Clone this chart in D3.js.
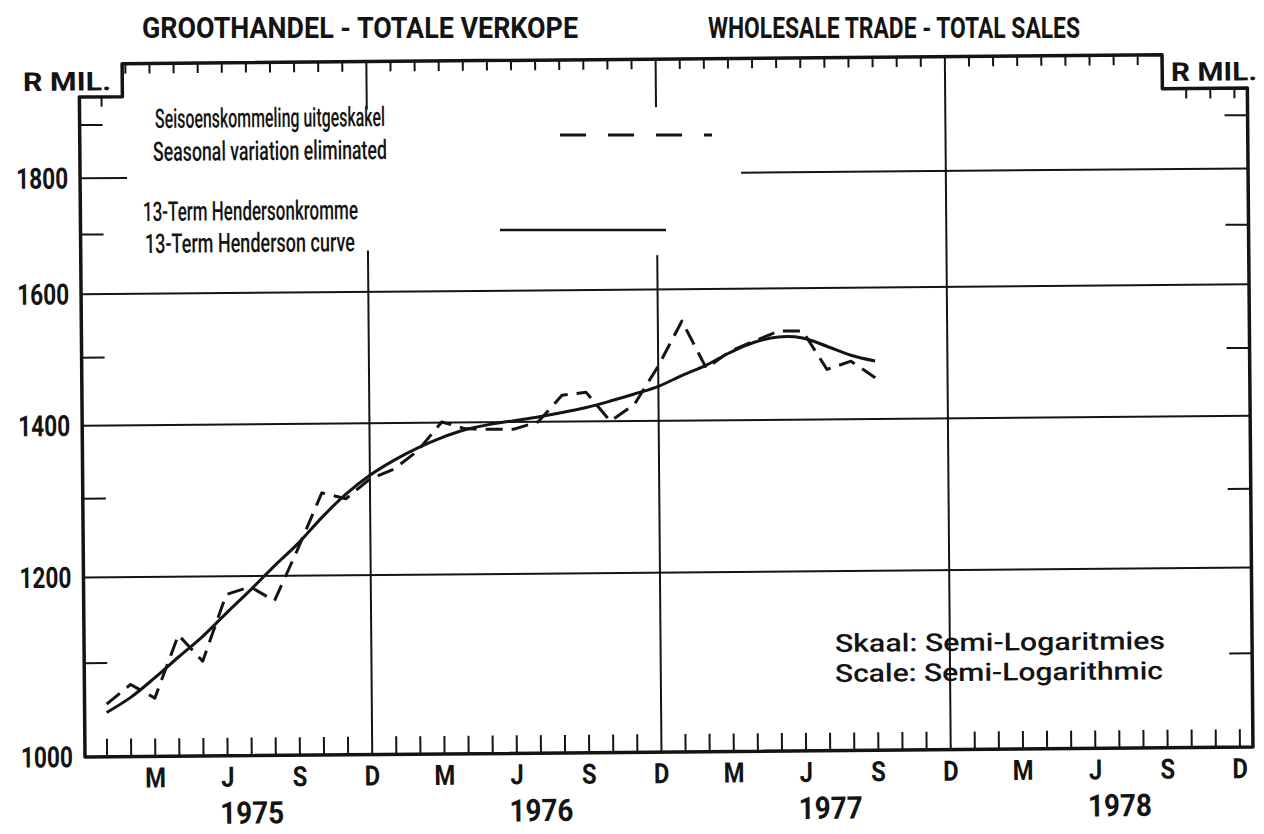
<!DOCTYPE html>
<html><head><meta charset="utf-8">
<script src="https://cdn.jsdelivr.net/npm/d3@7"></script>
<style>html,body{margin:0;padding:0;background:#fff;}svg{display:block;}</style>
</head><body>
<svg id="chart" width="1264" height="834"></svg>
<script>
// ---------- data ----------
const months = ["Jan 1975","Feb 1975","Mar 1975","Apr 1975","May 1975","Jun 1975","Jul 1975","Aug 1975","Sep 1975","Oct 1975","Nov 1975","Dec 1975",
  "Jan 1976","Feb 1976","Mar 1976","Apr 1976","May 1976","Jun 1976","Jul 1976","Aug 1976","Sep 1976","Oct 1976","Nov 1976","Dec 1976",
  "Jan 1977","Feb 1977","Mar 1977","Apr 1977","May 1977","Jun 1977","Jul 1977","Aug 1977","Sep 1977"];
const seasonallyAdjusted = [1055,1076,1061,1131,1101,1178,1187,1170,1234,1305,1297,1323,
  1336,1361,1401,1391,1390,1390,1400,1438,1442,1400,1424,1480,
  1549,1476,1502,1517,1532,1532,1473,1485,1460];
const hendersonCurve = [1046,1062,1083,1106,1129,1156,1183,1212,1240,1273,1303,1328,
  1348,1365,1379,1390,1397,1402,1407,1413,1420,1429,1439,1450,
  1466,1481,1500,1515,1523,1521,1508,1494,1485];
const quarterLabels = ["M","J","S","D","M","J","S","D","M","J","S","D","M","J","S","D"];
const yearLabels = ["1975","1976","1977","1978"];
const majorYTicks = [1000,1200,1400,1600,1800];
const minorYTicks = [1100,1300,1500,1700,1900];
const titleLeft = "GROOTHANDEL - TOTALE VERKOPE";
const titleRight = "WHOLESALE TRADE - TOTAL SALES";
const unitLabel = "R MIL.";
const legendDashed = ["Seisoenskommeling uitgeskakel","Seasonal variation eliminated"];
const legendSolid = ["13-Term Hendersonkromme","13-Term Henderson curve"];
const scaleNote = ["Skaal: Semi-Logaritmies","Scale: Semi-Logarithmic"];

// ---------- layout ----------
const INK = "#141414";
const FONT = "Roboto, 'DejaVu Sans', sans-serif";
const svg = d3.select("#chart");
svg.append("rect").attr("width",1264).attr("height",834).attr("fill","#fff");

// month index: 0 = Dec 1974 ... 48 = Dec 1978
const x = d3.scaleLinear().domain([0,48]).range([83,1240]);
const y = d3.scaleLog().domain([1000,1900]).range([757, 757 - 2267*Math.log10(1.9)]);

const pivotX = 85, pivotY = 757, tilt = 0.0085;       // the scan is slightly rotated
const F = (X,Y) => [X + (pivotY - Y)*tilt, Y + (X - pivotX)*tilt]; // page -> chart frame

function label(sel, txt, X, Y, size, weight, width, anchor){
  const t = sel.append("text").attr("x",X).attr("y",Y).attr("fill",INK)
    .attr("font-family",FONT).attr("font-size",size).attr("font-weight",weight)
    .attr("text-anchor",anchor||"start").text(txt);
  if (width) t.attr("textLength",width).attr("lengthAdjust","spacingAndGlyphs");
  return t;
}
label(svg, titleLeft, 142, 38, 30, 700, 436);
label(svg, titleRight, 708, 38, 30, 700, 372);

const g = svg.append("g").attr("transform",`rotate(${-tilt*180/Math.PI} ${pivotX} ${pivotY})`);

const fL = 85, fR = 1253, fB = y(1000), fT = 64, stepY = 97, stepL = 128, stepR = 1168;

[1200,1400,1600].forEach(v => g.append("line").attr("x1",fL).attr("x2",fR)
  .attr("y1",y(v)).attr("y2",y(v)).attr("stroke",INK).attr("stroke-width",2));
g.append("line").attr("x1",746).attr("x2",fR).attr("y1",y(1800)).attr("y2",y(1800))
  .attr("stroke",INK).attr("stroke-width",2);
g.append("line").attr("x1",fL).attr("x2",fL+47).attr("y1",y(1800)).attr("y2",y(1800))
  .attr("stroke",INK).attr("stroke-width",2);
minorYTicks.forEach(v => {
  g.append("line").attr("x1",fL).attr("x2",fL+23).attr("y1",y(v)).attr("y2",y(v))
    .attr("stroke",INK).attr("stroke-width",2);
  g.append("line").attr("x1",fR-23).attr("x2",fR).attr("y1",y(v)).attr("y2",y(v))
    .attr("stroke",INK).attr("stroke-width",2);
});

const gridTop = {12:253, 24:260, 36:fT};
Object.keys(gridTop).forEach(k => g.append("line").attr("x1",x(+k)).attr("x2",x(+k))
  .attr("y1",fB).attr("y2",gridTop[k]).attr("stroke",INK).attr("stroke-width",2));

d3.range(1,49).forEach(i => {
  const xi = x(i);
  if (i !== 12 && i !== 24 && i !== 36) {
    g.append("line").attr("x1",xi).attr("x2",xi).attr("y1",fB).attr("y2",fB-18)
      .attr("stroke",INK).attr("stroke-width",2);
  }
  if (i === 36) return;
  const ty = xi < stepL ? stepY : (xi > stepR ? stepY+1 : fT);
  const len = (i === 12 || i === 24) ? 48 : 10;
  g.append("line").attr("x1",xi).attr("x2",xi).attr("y1",ty).attr("y2",ty+len)
    .attr("stroke",INK).attr("stroke-width",2);
});

g.append("path")
  .attr("d",`M${fL},${fB}V${stepY}H${stepL}V${fT}H${stepR}V${stepY+1}H${fR}V${fB}Z`)
  .attr("fill","none").attr("stroke",INK).attr("stroke-width",3.5).attr("stroke-linejoin","round");

majorYTicks.forEach(v => label(g, String(v), fL-12, y(v)+10, 29, 700, 52, "end"));
quarterLabels.forEach((t,i) => label(g, t, x(3*(i+1)), 788, 28, 700, null, "middle")
  .attr("transform",`translate(${x(3*(i+1))},0) scale(0.85,1) translate(${-x(3*(i+1))},0)`));
yearLabels.forEach((t,i) => label(g, t, x(7+12*i), 825, 31, 700, 64, "middle"));

let p = F(23,91);  label(g, unitLabel, p[0], p[1], 26, 700, 88);
p = F(1171,81);    label(g, unitLabel, p[0], p[1], 26, 700, 86);

const lg = [[legendDashed[0],155,128,230,27],[legendDashed[1],153,161,234,27],
            [legendSolid[0],143,221,215,27],[legendSolid[1],145,253,210,27],
            [scaleNote[0],835,652,330,25],[scaleNote[1],835,682,328,25]];
lg.forEach(d => { const q = F(d[1],d[2]); label(g, d[0], q[0], q[1], d[4], 500, d[3]); });
let a = F(560,135), b = F(712,135);
g.append("line").attr("x1",a[0]).attr("x2",b[0]).attr("y1",a[1]).attr("y2",b[1])
  .attr("stroke",INK).attr("stroke-width",3).attr("stroke-dasharray","26,22");
a = F(500,230); b = F(666,230);
g.append("line").attr("x1",a[0]).attr("x2",b[0]).attr("y1",a[1]).attr("y2",b[1])
  .attr("stroke",INK).attr("stroke-width",2.5);

const idx = months.map((m,i) => i+1);
const lineSmooth = d3.line().x((d,i)=>x(idx[i])).y(d=>y(d)).curve(d3.curveCatmullRom.alpha(0.5));
const lineRaw = d3.line().x((d,i)=>x(idx[i])).y(d=>y(d));
g.append("path").attr("d",lineRaw(seasonallyAdjusted)).attr("fill","none").attr("stroke",INK)
  .attr("stroke-width",3).attr("stroke-dasharray","17,9").attr("stroke-linejoin","round");
g.append("path").attr("d",lineSmooth(hendersonCurve)).attr("fill","none").attr("stroke",INK)
  .attr("stroke-width",3);
</script>
</body></html>
